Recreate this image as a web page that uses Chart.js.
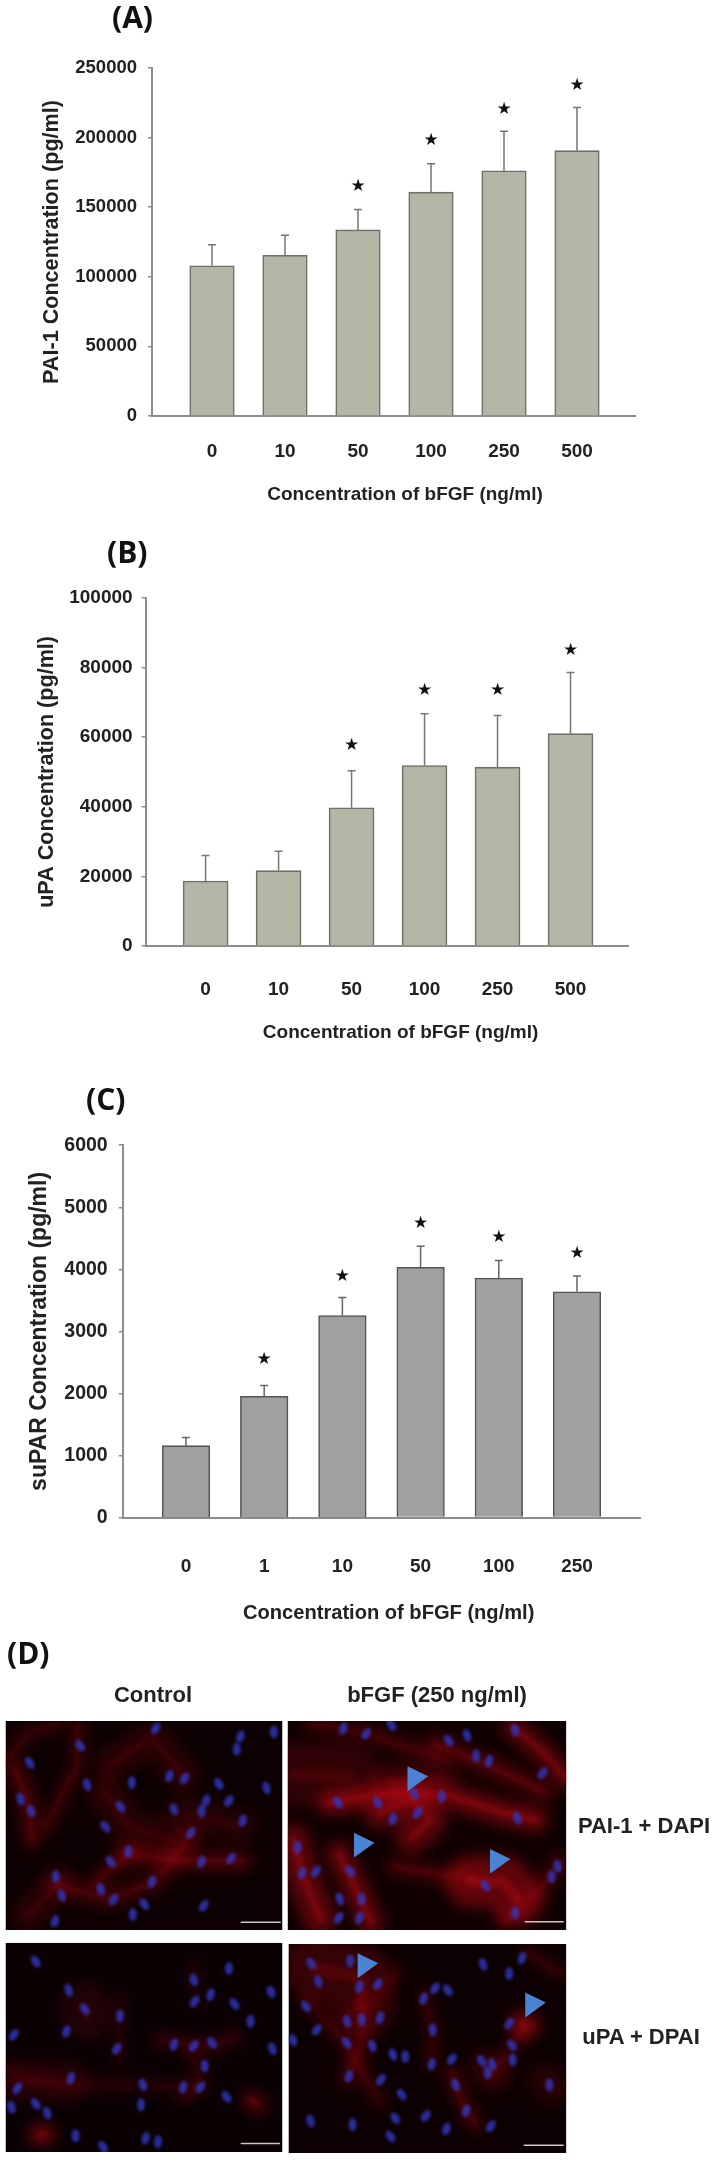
<!DOCTYPE html>
<html>
<head>
<meta charset="utf-8">
<script src="https://cdn.jsdelivr.net/npm/chart.js@4"></script>
<style>
  html, body { margin: 0; padding: 0; background: #fff; }
  #page { position: relative; width: 718px; height: 2160px; overflow: hidden; font-family: "Liberation Sans", Arial, sans-serif; }
  #page canvas { position: absolute; left: 0; }
  .chartbox { filter: blur(0.55px); }
  .panel { position: absolute; font-family: "Open Sans", sans-serif; font-weight: 700; font-size: 30px; line-height: 36px; color: #111; transform: translateY(-50%); }
  .cap { position: absolute; font-weight: bold; font-size: 22px; line-height: 26px; color: #222; white-space: nowrap; transform: translate(-50%, -50%); filter: blur(0.5px); }
</style>
</head>
<body>
<div id="page">
  <canvas id="chartA" class="chartbox" width="718" height="520" style="top:0"></canvas>
  <canvas id="chartB" class="chartbox" width="718" height="540" style="top:520px"></canvas>
  <canvas id="chartC" class="chartbox" width="718" height="590" style="top:1040px"></canvas>
  <canvas id="cells" width="718" height="520" style="top:1640px"></canvas>
  <div class="panel" style="left:112px;top:17px">(A)</div>
  <div class="panel" style="left:107px;top:552px">(B)</div>
  <div class="panel" style="left:86px;top:1099px">(C)</div>
  <div class="panel" style="left:7px;top:1653px">(D)</div>
  <div class="cap" style="left:153px;top:1695px">Control</div>
  <div class="cap" style="left:437px;top:1695px">bFGF (250 ng/ml)</div>
  <div class="cap" style="left:644px;top:1826px">PAI-1 + DAPI</div>
  <div class="cap" style="left:641px;top:2037px">uPA + DPAI</div>
</div>
<script>
// panel A
const categoriesA = ["0", "10", "50", "100", "250", "500"];
const valuesA = [107900, 115500, 133700, 160800, 176200, 190600];
const errorTopsA = [123000, 129900, 148400, 181200, 204500, 221700];
const starsA = [null, null, 164900, 198000, 220000, 237500];
const yTicksA = [0, 50000, 100000, 150000, 200000, 250000];

// panel B
const categoriesB = ["0", "10", "50", "100", "250", "500"];
const valuesB = [18640, 21650, 39700, 51840, 51360, 60970];
const errorTopsB = [26020, 27180, 50300, 66700, 66200, 78540];
const starsB = [null, null, 57500, 73300, 73300, 84760];
const yTicksB = [0, 20000, 40000, 60000, 80000, 100000];

// panel C
const categoriesC = ["0", "1", "10", "50", "100", "250"];
const valuesC = [1159, 1955, 3256, 4033, 3860, 3638];
const errorTopsC = [1289, 2127, 3546, 4372, 4144, 3891];
const starsC = [null, 2547, 3879, 4742, 4514, 4261];
const yTicksC = [0, 1000, 2000, 3000, 4000, 5000, 6000];

const FONT = '"Liberation Sans", Arial, sans-serif';
const TEXT = "#222";

// error whiskers and stars follow the y scale of each chart
const extras = {
  id: "extras",
  afterDatasetsDraw(chart, args, opts) {
    const { ctx, scales: { x, y } } = chart;
    ctx.save();
    ctx.strokeStyle = opts.whisker;
    ctx.lineWidth = 1.5;
    opts.errors.forEach((e, i) => {
      const cx = x.getPixelForValue(i);
      ctx.beginPath();
      ctx.moveTo(cx, y.getPixelForValue(opts.values[i]));
      ctx.lineTo(cx, y.getPixelForValue(e));
      ctx.moveTo(cx - 4, y.getPixelForValue(e));
      ctx.lineTo(cx + 4, y.getPixelForValue(e));
      ctx.stroke();
    });
    ctx.fillStyle = "#111";
    ctx.font = '17px "DejaVu Sans"';
    ctx.textAlign = "center";
    ctx.textBaseline = "middle";
    opts.stars.forEach((s, i) => {
      if (s !== null) ctx.fillText("★", x.getPixelForValue(i), y.getPixelForValue(s));
    });
    ctx.fillStyle = TEXT;
    ctx.font = "bold " + opts.xTitle.size + "px " + FONT;
    ctx.fillText(opts.xTitle.text, opts.xTitle.x, opts.xTitle.y);
    ctx.restore();
  }
};

function makeChart(id, c) {
  const step = (c.last - c.first) / 5;
  new Chart(document.getElementById(id), {
    type: "bar",
    plugins: [extras],
    data: {
      datasets: [{
        data: c.values.map((v, i) => ({ x: i, y: v })),
        backgroundColor: c.fill,
        borderColor: c.edge,
        borderWidth: 1.6,
        barThickness: c.barWidth
      }]
    },
    options: {
      responsive: false,
      animation: false,
      layout: { padding: { top: c.top, right: 718 - c.right, left: 0, bottom: 0 } },
      plugins: {
        legend: { display: false },
        tooltip: { enabled: false },
        extras: {
          values: c.values, errors: c.errors, stars: c.stars, whisker: c.whisker,
          xTitle: { text: "Concentration of bFGF (ng/ml)", x: c.xTitleX, y: c.xTitleY, size: c.xTitleSize }
        }
      },
      scales: {
        x: {
          type: "linear",
          offset: false,
          min: -(c.first - c.left) / step,
          max: 5 + (c.right - c.last) / step,
          afterBuildTicks(s) { s.ticks = c.categories.map((_, i) => ({ value: i })); },
          afterFit(s) { s.height = c.bottomSpace; s.paddingLeft = 0; s.paddingRight = 0; },
          grid: { display: false, offset: false },
          border: { color: "#8c8c8c", width: 2 },
          ticks: {
            autoSkip: false, maxRotation: 0, padding: c.xTickPad, color: TEXT,
            font: { family: FONT, weight: "bold", size: 19 },
            callback: (v) => c.categories[v]
          }
        },
        y: {
          min: 0,
          max: c.yTicks[c.yTicks.length - 1],
          afterBuildTicks(s) { s.ticks = c.yTicks.map((v) => ({ value: v })); },
          afterFit(s) { s.width = c.left; s.paddingTop = 0; s.paddingBottom = 0; },
          grid: { drawOnChartArea: false, drawTicks: true, tickLength: 4, color: "#8c8c8c", lineWidth: 1.5 },
          border: { color: "#8c8c8c", width: 2 },
          ticks: {
            padding: c.yTickPad, color: TEXT,
            font: { family: FONT, weight: "bold", size: c.yTickSize },
            callback: (v) => String(v)
          },
          title: {
            display: true, text: c.yTitle, color: TEXT,
            font: { family: FONT, weight: "bold", size: c.yTitleSize },
            padding: { top: c.yTitlePad, bottom: 0 }
          }
        }
      }
    }
  });
}

makeChart("chartA", {
  categories: categoriesA, values: valuesA, errors: errorTopsA, stars: starsA, yTicks: yTicksA,
  fill: "#b5b6a6", edge: "#6e6f66", whisker: "#77776f", barWidth: 44.5,
  top: 68, left: 152, right: 635.5, first: 212, last: 577, bottomSpace: 104,
  xTickPad: 16, yTickPad: 11, yTickSize: 18.5,
  yTitle: "PAI-1 Concentration (pg/ml)", yTitleSize: 21.6, yTitlePad: 39,
  xTitleX: 405, xTitleY: 495, xTitleSize: 19
});
makeChart("chartB", {
  categories: categoriesB, values: valuesB, errors: errorTopsB, stars: starsB, yTicks: yTicksB,
  fill: "#b5b6a6", edge: "#6e6f66", whisker: "#77776f", barWidth: 45,
  top: 77.8, left: 145.6, right: 628.7, first: 205.6, last: 570.5, bottomSpace: 114,
  xTickPad: 24, yTickPad: 9, yTickSize: 19,
  yTitle: "uPA Concentration (pg/ml)", yTitleSize: 21.6, yTitlePad: 34,
  xTitleX: 400.6, xTitleY: 513, xTitleSize: 19
});
makeChart("chartC", {
  categories: categoriesC, values: valuesC, errors: errorTopsC, stars: starsC, yTicks: yTicksC,
  fill: "#a0a0a0", edge: "#555", whisker: "#666", barWidth: 47.6,
  top: 105.2, left: 122.7, right: 640, first: 186, last: 577, bottomSpace: 112.4,
  xTickPad: 29.5, yTickPad: 11, yTickSize: 19.5,
  yTitle: "suPAR Concentration (pg/ml)", yTitleSize: 23, yTitlePad: 26,
  xTitleX: 388.7, xTitleY: 573, xTitleSize: 20.1
});

// micrograph panels (not data): positions read off the reference crop
const fx = (x) => x / 2.184;
const fy = (y) => y / 2.904 + 1620 - 1640;
const micrographs = [
  { box: [12, 293, 617, 900], bar: [527, 612, 878], bg: "#0c0002",
    fibres: [
      [0.55, 7, [[30,430],[60,520],[70,640]]], [0.4, 6, [[170,300],[170,420],[100,600]]],
      [0.3, 14, [[240,420],[330,340],[400,450]]], [0.55, 8, [[270,680],[420,700],[530,700]]],
      [0.5, 6, [[210,760],[290,670]]], [0.45, 8, [[120,770],[240,810],[340,760],[420,620]]],
      [0.3, 14, [[60,860],[130,760]]], [0.3, 16, [[230,500],[280,600],[380,640]]],
      [0.25, 16, [[400,560],[520,600]]], [0.35, 6, [[20,400],[60,330],[130,300]]]
    ],
    nuclei: [[65,415],[190,478],[288,472],[370,453],[403,460],[478,476],[582,488],[517,375],[525,338],[340,315],[263,542],[380,550],[440,555],[530,583],[417,618],[230,600],[68,555],[280,672],[440,702],[505,692],[242,702],[220,782],[122,745],[332,760],[248,812],[315,825],[135,800],[290,855],[450,525],[500,525],[175,365],[45,520],[598,325],[120,875],[445,830]],
    arrows: [] },
  { box: [628, 293, 1237, 900], bar: [1147, 1230, 876], bg: "#100002",
    fibres: [
      [0.9, 10, [[720,530],[860,500],[980,510],[1100,560],[1170,580]]], [0.8, 14, [[830,560],[900,520],[940,580],[900,630]]],
      [0.55, 8, [[950,360],[1080,430],[1190,500]]], [0.8, 8, [[1120,310],[1190,390],[1235,460]]],
      [0.45, 6, [[680,300],[800,330],[960,400]]], [0.8, 14, [[640,640],[660,740],[700,870]]],
      [0.85, 10, [[740,680],[770,760],[810,880]]], [0.55, 6, [[860,715],[960,740],[1040,750]]],
      [0.85, 24, [[1030,760],[1100,760],[1130,810]]], [0.5, 6, [[1100,880],[1180,780],[1225,700]]],
      [0.4, 16, [[850,470],[960,460]]], [0.35, 30, [[640,450],[760,450]]]
    ],
    nuclei: [[980,350],[1020,335],[1040,395],[1068,410],[1185,445],[825,530],[905,505],[965,512],[858,578],[912,560],[738,530],[1130,575],[650,660],[660,735],[690,730],[765,730],[742,810],[790,810],[785,865],[740,865],[1060,772],[1218,715],[1205,745],[750,315],[800,330],[855,305],[1125,320],[1125,850]],
    arrows: [[890,425],[773,618],[1070,665]] },
  { box: [12, 937, 617, 1545], bar: [527, 610, 1520], bg: "#0a0004",
    fibres: [
      [0.3, 5, [[420,1260],[440,1340],[400,1390]]], [0.35, 6, [[350,1220],[460,1240],[510,1210]]],
      [0.25, 18, [[30,1340],[150,1340]]], [0.25, 5, [[20,1310],[120,1350],[320,1350],[430,1360]]],
      [0.25, 22, [[185,1120],[190,1150]]], [0.25, 4, [[262,1100],[260,1280]]],
      [0.2, 4, [[425,1000],[430,1120]]], [0.7, 6, [[545,1390],[565,1410]]], [0.9, 8, [[85,1493],[98,1495]]]
    ],
    nuclei: [[78,992],[150,1075],[262,1150],[145,1195],[255,1245],[185,1130],[423,1045],[500,1012],[460,1088],[425,1108],[512,1115],[592,1080],[547,1165],[380,1233],[423,1237],[463,1228],[595,1245],[447,1295],[400,1357],[438,1357],[495,1385],[312,1350],[308,1408],[155,1330],[38,1360],[78,1405],[103,1432],[165,1498],[318,1505],[30,1205],[225,1530],[25,1415],[345,1515]],
    arrows: [] },
  { box: [630, 941, 1237, 1548], bar: [1145, 1230, 1525], bg: "#0c0002",
    fibres: [
      [0.45, 30, [[690,1010],[790,1040],[790,1120]]], [0.4, 8, [[790,1120],[790,1230],[760,1330]]],
      [0.4, 5, [[670,1100],[760,1240],[830,1400]]], [0.4, 4, [[925,1080],[945,1200],[940,1290]]],
      [0.65, 4, [[985,1310],[1010,1400],[1040,1470]]], [0.4, 4, [[1150,960],[1225,1030]]],
      [0.95, 12, [[1143,1175],[1148,1178]]], [0.4, 5, [[1145,1180],[1110,1260],[1070,1320]]],
      [0.3, 4, [[870,1020],[800,1120]]], [0.3, 16, [[1060,1300],[1080,1320]]], [0.25, 16, [[1190,1340],[1210,1360]]]
    ],
    nuclei: [[680,998],[695,1050],[765,990],[785,1065],[825,1058],[668,1122],[758,1165],[790,1160],[830,1155],[692,1190],[757,1228],[813,1237],[945,1190],[925,1100],[950,1070],[978,1075],[1055,1000],[1112,1027],[1140,982],[1112,1172],[1118,1235],[858,1262],[885,1268],[943,1290],[987,1275],[1052,1280],[1075,1290],[1120,1277],[762,1325],[832,1335],[877,1378],[995,1350],[1200,1350],[1018,1425],[930,1440],[863,1447],[678,1455],[770,1465],[975,1478],[1072,1470],[853,1500],[640,1220],[1065,1315]],
    arrows: [[781,968],[1147,1082]] }
];

const cells = document.getElementById("cells").getContext("2d");
function stroke(pts, width, alpha) {
  cells.strokeStyle = "rgba(200,12,22," + alpha + ")";
  cells.lineWidth = width;
  cells.beginPath();
  pts.forEach(([px, py], i) => (i ? cells.lineTo(fx(px), fy(py)) : cells.moveTo(fx(px), fy(py))));
  cells.stroke();
}
micrographs.forEach((m) => {
  const [x0, y0, x1, y1] = m.box;
  cells.save();
  cells.beginPath();
  cells.rect(fx(x0), fy(y0), fx(x1) - fx(x0), fy(y1) - fy(y0));
  cells.clip();
  cells.fillStyle = m.bg;
  cells.fill();
  cells.lineCap = "round";
  cells.lineJoin = "round";
  // wide soft glow, then a thinner core for each fibre
  cells.filter = "blur(7px)";
  m.fibres.forEach(([a, w, pts]) => stroke(pts, w * 2 + 5, a * 0.5));
  cells.filter = "blur(2.5px)";
  m.fibres.forEach(([a, w, pts]) => stroke(pts, w * 0.4 + 1, a * 0.4));
  cells.filter = "blur(1.6px)";
  cells.fillStyle = "rgba(50,55,190,0.8)";
  m.nuclei.forEach(([px, py], i) => {
    cells.beginPath();
    cells.ellipse(fx(px), fy(py), 4, 6.5, (i % 5 - 2) * 0.3, 0, Math.PI * 2);
    cells.fill();
  });
  cells.filter = "none";
  cells.strokeStyle = "#c8c8c8";
  cells.lineWidth = 1.5;
  cells.beginPath();
  cells.moveTo(fx(m.bar[0]), fy(m.bar[2]));
  cells.lineTo(fx(m.bar[1]), fy(m.bar[2]));
  cells.stroke();
  cells.fillStyle = "#4a82d4";
  m.arrows.forEach(([px, py]) => {
    cells.beginPath();
    cells.moveTo(fx(px), fy(py));
    cells.lineTo(fx(px + 45), fy(py + 29));
    cells.lineTo(fx(px), fy(py + 72));
    cells.closePath();
    cells.fill();
  });
  cells.restore();
});
</script>
</body>
</html>
